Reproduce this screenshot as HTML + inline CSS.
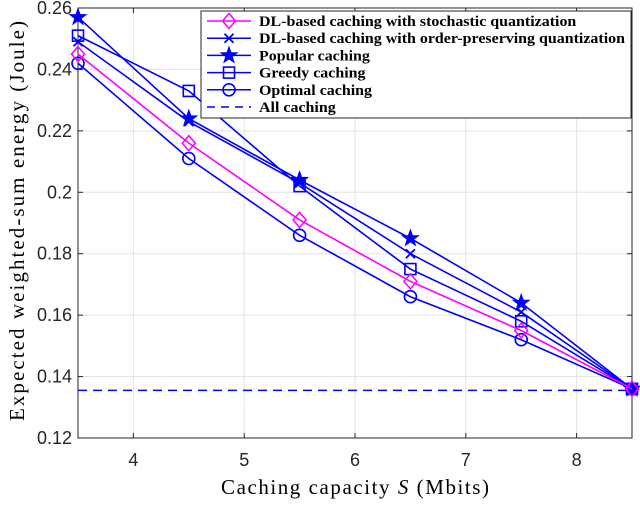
<!DOCTYPE html>
<html><head><meta charset="utf-8"><style>
body{margin:0;background:#fff;}
svg text{font-family:"Liberation Sans",sans-serif;}
</style></head><body>
<svg id="chart" width="640" height="502" viewBox="0 0 640 502" xmlns="http://www.w3.org/2000/svg">
<rect x="0" y="0" width="640" height="502" fill="#fff"/>
<g id="grid"></g><g id="axes"></g><g id="series"></g><g id="legend"></g>
<text x="355" y="494" text-anchor="middle" style="font-family:'Liberation Serif',serif" font-size="21" textLength="268">Caching capacity <tspan font-style="italic">S</tspan> (Mbits)</text>
<text transform="translate(24,221) rotate(-90)" text-anchor="middle" style="font-family:'Liberation Serif',serif" font-size="21" textLength="400">Expected weighted-sum energy (Joule)</text>
</svg>
<script>
const xValues=[3.5,4.5,5.5,6.5,7.5,8.5];
const stochastic=[0.245,0.216,0.191,0.171,0.155,0.136];
const orderPreserving=[0.249,0.223,0.203,0.180,0.161,0.136];
const popular=[0.257,0.224,0.204,0.185,0.164,0.136];
const greedy=[0.251,0.233,0.202,0.175,0.158,0.136];
const optimal=[0.242,0.211,0.186,0.166,0.152,0.136];
const allCaching=0.1355;
const xTicks=[4,5,6,7,8];
const yTicks=[0.12,0.14,0.16,0.18,0.2,0.22,0.24,0.26];
const yTickLabels=["0.12","0.14","0.16","0.18","0.2","0.22","0.24","0.26"];
const legendLabels=["DL-based caching with stochastic quantization","DL-based caching with order-preserving quantization","Popular caching","Greedy caching","Optimal caching","All caching"];

const L=78,R=632,T=8,B=438,NS="http://www.w3.org/2000/svg";
const xs=v=>L+(v-3.5)/(8.5-3.5)*(R-L);
const ys=v=>B-(v-0.12)/(0.26-0.12)*(B-T);
function mk(tag,attrs,parent){const e=document.createElementNS(NS,tag);for(const k in attrs)e.setAttribute(k,attrs[k]);parent.appendChild(e);return e;}
const grid=document.getElementById('grid'),axes=document.getElementById('axes'),ser=document.getElementById('series'),leg=document.getElementById('legend');
xTicks.forEach(t=>{const g=mk('line',{x1:xs(t),x2:xs(t),y1:T,y2:B,stroke:'#e3e3e3','stroke-width':1},grid);


const tl=mk('text',{x:xs(t),y:B+28,'text-anchor':'middle','font-size':18,fill:'#262626'},axes);tl.textContent=t;


mk('line',{x1:xs(t),x2:xs(t),y1:B,y2:B-5,stroke:'#262626'},axes);
mk('line',{x1:xs(t),x2:xs(t),y1:T,y2:T+5,stroke:'#262626'},axes);});
yTicks.forEach((t,i)=>{const g=mk('line',{x1:L,x2:R,y1:ys(t),y2:ys(t),stroke:'#e3e3e3','stroke-width':1},grid);


const tl=mk('text',{x:L-6,y:ys(t)+6,'text-anchor':'end','font-size':18,fill:'#262626'},axes);tl.textContent=yTickLabels[i];


mk('line',{x1:L,x2:L+5,y1:ys(t),y2:ys(t),stroke:'#262626'},axes);
mk('line',{x1:R,x2:R-5,y1:ys(t),y2:ys(t),stroke:'#262626'},axes);});
const fr=mk('rect',{x:L,y:T,width:R-L,height:B-T,fill:'none',stroke:'#262626','stroke-width':1},axes);



function marker(type,x,y,color,p){
 if(type==='diamond')mk('polygon',{points:`${x},${y-7.5} ${x+6.5},${y} ${x},${y+7.5} ${x-6.5},${y}`,fill:'none',stroke:color,'stroke-width':1.5},p);
 else if(type==='x'){mk('path',{d:`M${x-4.5},${y-4.5}L${x+4.5},${y+4.5}M${x-4.5},${y+4.5}L${x+4.5},${y-4.5}`,stroke:color,'stroke-width':1.8},p);}
 else if(type==='star'){let pts=[];for(let k=0;k<10;k++){const r=k%2?3.4:8.5,a=-Math.PI/2+k*Math.PI/5;pts.push((x+r*Math.cos(a)).toFixed(1)+','+(y+r*Math.sin(a)).toFixed(1));}mk('polygon',{points:pts.join(' '),fill:color,stroke:color,'stroke-width':1},p);}
 else if(type==='square')mk('rect',{x:x-5.5,y:y-5.5,width:11,height:11,fill:'none',stroke:color,'stroke-width':1.6},p);
 else if(type==='circle')mk('circle',{cx:x,cy:y,r:6,fill:'none',stroke:color,'stroke-width':1.6},p);
}
const defs=[[stochastic,'#ff00ff','diamond','stochastic'],[orderPreserving,'#0000ff','x','order-preserving'],[popular,'#0000ff','star','popular'],[greedy,'#0000ff','square','greedy'],[optimal,'#0000ff','circle','optimal']];
const hl=mk('line',{x1:L,x2:R,y1:ys(allCaching),y2:ys(allCaching),stroke:'#0000ff','stroke-width':1.5,'stroke-dasharray':'9,6'},ser);


defs.slice().reverse().forEach(([vals,c,m,n])=>{const g=mk('g',{},ser);


mk('polyline',{points:vals.map((v,i)=>xs(xValues[i])+','+ys(v)).join(' '),fill:'none',stroke:c,'stroke-width':1.6},g);
vals.forEach((v,i)=>marker(m,xs(xValues[i]),ys(v),c,g));});

const lb=mk('rect',{x:201,y:11,width:430,height:107,fill:'#fff',stroke:'#262626','stroke-width':1},leg);


const texts=[];
legendLabels.forEach((lab,i)=>{const y=21+i*17.2;const g=mk('g',{},leg);


if(i<5){const [,c,m]=defs[i];mk('line',{x1:207,x2:251,y1:y,y2:y,stroke:c,'stroke-width':1.5},g);marker(m,229,y,c,g);}
else mk('line',{x1:207,x2:251,y1:y,y2:y,stroke:'#0000ff','stroke-width':1.5,'stroke-dasharray':'8,6'},g);
const t=mk('text',{x:259,y:y+5,'font-size':14.5,'font-weight':'bold',fill:'#000'},g);t.style.fontFamily="'Liberation Serif',serif";t.textContent=lab;texts.push(t);});
let maxW=0;texts.forEach(t=>{maxW=Math.max(maxW,t.getComputedTextLength());});
const f=366/maxW;
texts.forEach(t=>{const w=t.getComputedTextLength();t.setAttribute('textLength',(w*f).toFixed(1));t.setAttribute('lengthAdjust','spacingAndGlyphs');});
</script>
</body></html>
